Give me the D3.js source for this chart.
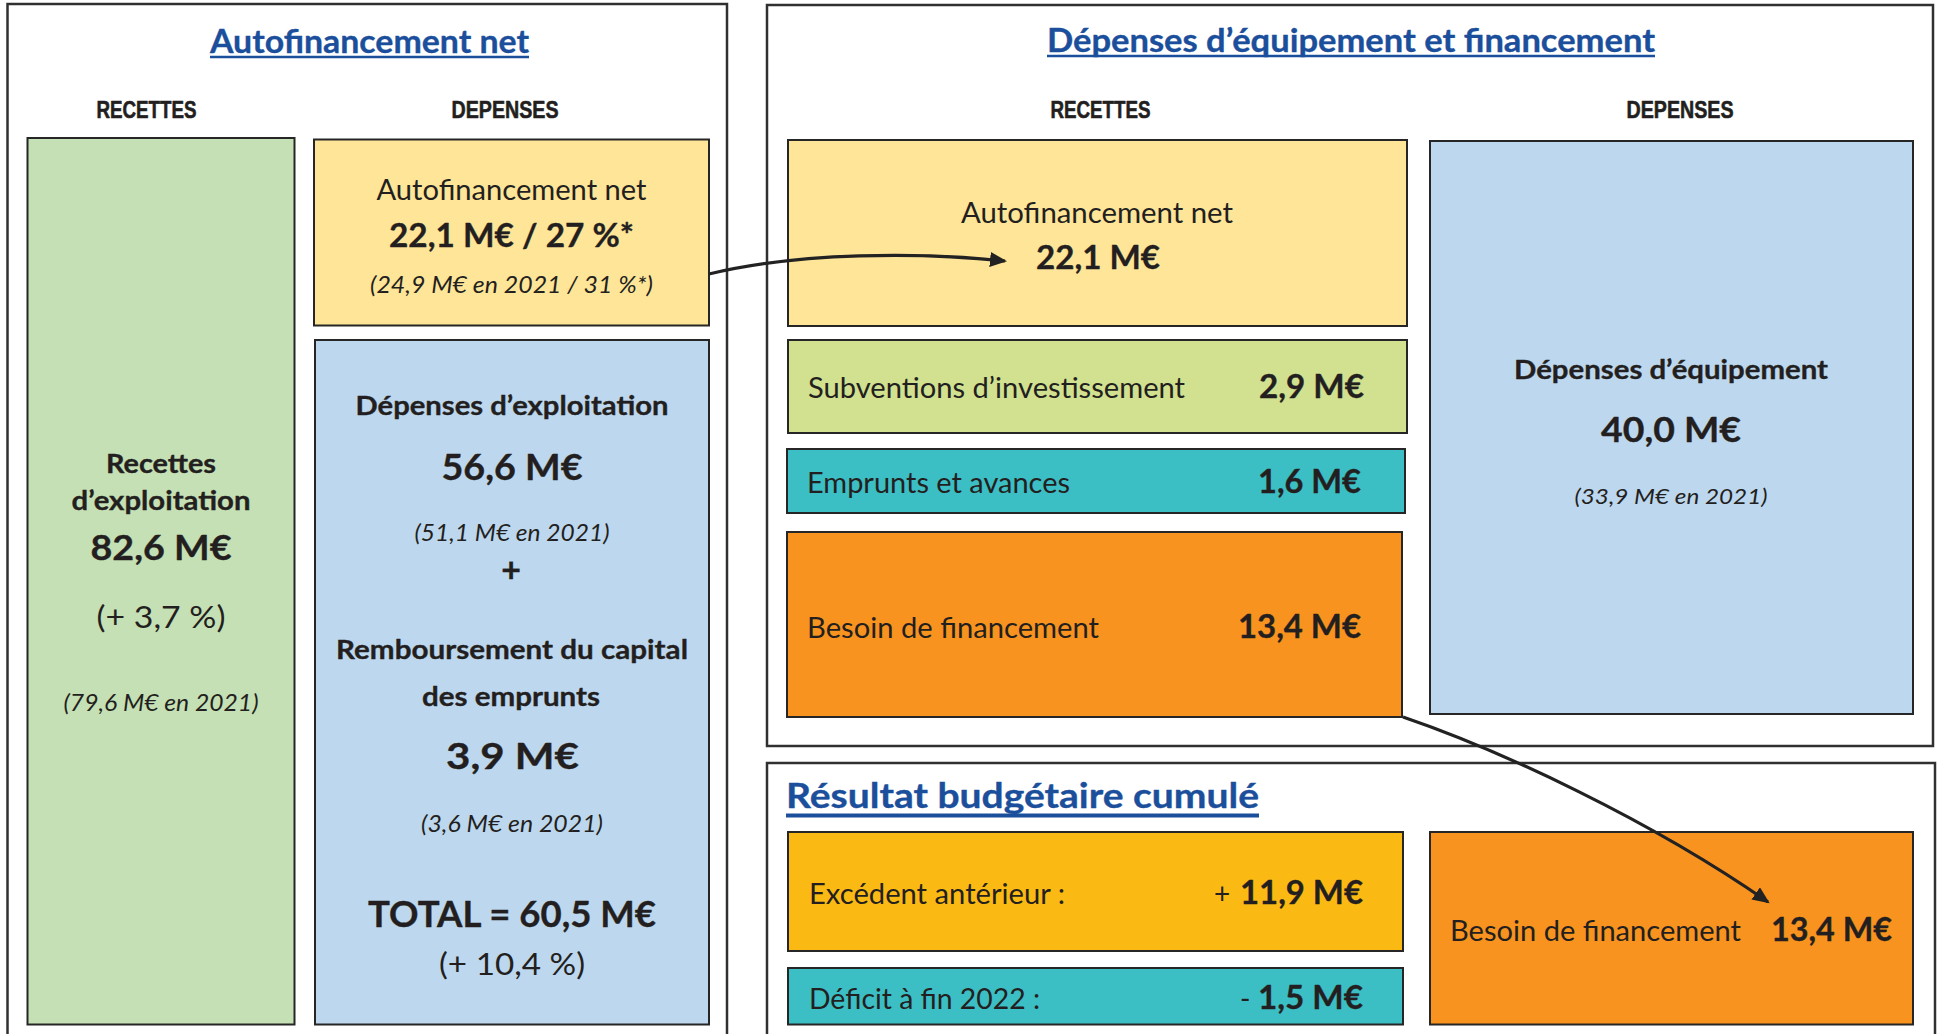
<!DOCTYPE html>
<html lang="fr">
<head>
<meta charset="utf-8">
<script src="https://cdn.jsdelivr.net/npm/d3@7"></script>
<style>
html,body{margin:0;padding:0;background:#fff;}
svg{display:block;}
</style>
</head>
<body>
<svg id="chart" width="1938" height="1034"></svg>
<script>
// ---------------- DATA ----------------
const panelTitles = ["Autofinancement net", "Dépenses d’équipement et financement", "Résultat budgétaire cumulé"];
const columnHeaders = ["RECETTES", "DEPENSES"];

// Section fonctionnement (M€)
const exploitLabels = ["Recettes", "d’exploitation", "Autofinancement net", "Dépenses d’exploitation", "Remboursement du capital", "des emprunts"];
const exploit2022 = [82.6, 22.1, 56.6, 3.9];   // recettes, autofinancement, dépenses exploit., remboursement
const exploit2021 = [79.6, 24.9, 51.1, 3.6];
const autofinRate = [27, 31];                  // % 2022, % 2021
const exploitEvolution = [3.7, 10.4];          // % recettes, % total dépenses
const exploitTotal = [60.5];

// Section investissement (M€)
const investLabels = ["Autofinancement net", "Subventions d’investissement", "Emprunts et avances", "Besoin de financement", "Dépenses d’équipement"];
const invest2022 = [22.1, 2.9, 1.6, 13.4, 40.0];
const invest2021 = [33.9];

// Résultat budgétaire cumulé (M€)
const resultLabels = ["Excédent antérieur :", "Déficit à fin 2022 :", "Besoin de financement"];
const resultValues = [11.9, -1.5, 13.4];

// ---------------- FORMAT ----------------
const fr = d3.formatLocale({decimal: ",", thousands: "\u00a0", grouping: [3], currency: ["", " €"]});
const f1 = fr.format(".1f");
const f0 = fr.format(".0f");
const meur = v => f1(Math.abs(v)) + " M€";
const prev = v => "(" + meur(v) + " en 2021)";
const evo = v => "(+ " + f1(v) + " %)";

// ---------------- STYLE ----------------
const LATO = "Lato, Carlito, 'Noto Sans', sans-serif";
const ARIAL = "'Liberation Sans', Arial, sans-serif";
const INK = "#231f20";
const BLUE = "#1b4f9c";
const C = {green:"#c5e0b4", yellow:"#fee598", blue:"#bdd7ee", lime:"#d1e18f", teal:"#3bbec4", orange:"#f7931e", gold:"#fbba13"};

const svg = d3.select("#chart");
svg.append("rect").attr("width", 1938).attr("height", 1034).attr("fill", "#fff");

// panels
const panels = [
  {x:7.5, y:4, w:719.5, h:1060},
  {x:767, y:5, w:1166, h:741},
  {x:767, y:763, w:1168, h:300}
];
svg.append("g").selectAll("rect").data(panels).join("rect")
  .attr("x", d => d.x).attr("y", d => d.y).attr("width", d => d.w).attr("height", d => d.h)
  .attr("fill", "none").attr("stroke", "#303030").attr("stroke-width", 2.5);

// boxes
const boxes = [
  {x:27.5, y:138, w:267, h:886.5, c:C.green},
  {x:314, y:139.5, w:395, h:186, c:C.yellow},
  {x:315, y:340, w:394, h:684.5, c:C.blue},
  {x:788, y:140, w:619, h:186, c:C.yellow},
  {x:788, y:340, w:619, h:93, c:C.lime},
  {x:787, y:449, w:618, h:64, c:C.teal},
  {x:787, y:532, w:615, h:185, c:C.orange},
  {x:1430, y:141, w:483, h:573, c:C.blue},
  {x:788, y:832, w:615, h:119, c:C.gold},
  {x:788, y:968, w:615, h:56.5, c:C.teal},
  {x:1430, y:832, w:483, h:192.5, c:C.orange}
];
svg.append("g").selectAll("rect").data(boxes).join("rect")
  .attr("x", d => d.x).attr("y", d => d.y).attr("width", d => d.w).attr("height", d => d.h)
  .attr("fill", d => d.c).attr("stroke", "#262626").attr("stroke-width", 2);

// texts
const texts = [
  // left panel
  {t:panelTitles[0], x:369.5, y:53, s:33, b:1, c:BLUE, w:319, u:1},
  {t:columnHeaders[0], x:146.5, y:118, s:24, b:1, f:ARIAL, w:100, k:0.6},
  {t:columnHeaders[1], x:505, y:118, s:24, b:1, f:ARIAL, w:107, k:0.6},
  {t:exploitLabels[0], x:161, y:473, s:27, b:1, w:110},
  {t:exploitLabels[1], x:161, y:510, s:27, b:1, w:179},
  {t:meur(exploit2022[0]), x:161, y:560, s:35, b:1, w:141},
  {t:evo(exploitEvolution[0]), x:161, y:628, s:31, w:129},
  {t:prev(exploit2021[0]), x:161, y:711, s:23.5, i:1, w:195},
  {t:exploitLabels[2], x:511.5, y:200, s:28, w:270},
  {t:meur(exploit2022[1]) + " / " + f0(autofinRate[0]) + " %*", x:511.5, y:247, s:33, b:1, w:245},
  {t:"(" + meur(exploit2021[1]) + " en 2021 / " + f0(autofinRate[1]) + " %*)", x:511.5, y:293, s:23.5, i:1, w:283},
  {t:exploitLabels[3], x:512, y:415, s:27, b:1, w:313},
  {t:meur(exploit2022[2]), x:512, y:480, s:35.5, b:1, w:141},
  {t:prev(exploit2021[2]), x:512, y:541, s:23.5, i:1, w:195},
  {t:"+", x:511, y:582, s:34, b:1},
  {t:exploitLabels[4], x:512, y:659, s:27, b:1, w:352},
  {t:exploitLabels[5], x:511, y:706, s:27, b:1, w:178},
  {t:meur(exploit2022[3]), x:512.5, y:769, s:37, b:1, w:133},
  {t:prev(exploit2021[3]), x:512, y:832, s:23.5, i:1, w:182},
  {t:"TOTAL = " + meur(exploitTotal[0]), x:512, y:927, s:36, b:1, w:288},
  {t:evo(exploitEvolution[1]), x:512, y:975, s:31, w:146},
  // right panel
  {t:panelTitles[1], x:1351, y:52, s:33, b:1, c:BLUE, w:608, u:1},
  {t:columnHeaders[0], x:1100.5, y:118, s:24, b:1, f:ARIAL, w:100, k:0.6},
  {t:columnHeaders[1], x:1680, y:118, s:24, b:1, f:ARIAL, w:107, k:0.6},
  {t:investLabels[0], x:1097, y:223, s:28, w:272},
  {t:meur(invest2022[0]), x:1098, y:269, s:33, b:1, w:124},
  {t:investLabels[1], x:808, y:398, s:28, a:"start", w:377},
  {t:meur(invest2022[1]), x:1259, y:398, s:33, b:1, a:"start", w:105},
  {t:investLabels[2], x:807, y:493, s:28, a:"start", w:263},
  {t:meur(invest2022[2]), x:1258, y:493, s:33, b:1, a:"start", w:103},
  {t:investLabels[3], x:807, y:638, s:28, a:"start", w:292},
  {t:meur(invest2022[3]), x:1238, y:638, s:33, b:1, a:"start", w:123},
  {t:investLabels[4], x:1671, y:379, s:26.5, b:1, w:314},
  {t:meur(invest2022[4]), x:1671, y:442, s:35, b:1, w:140},
  {t:prev(invest2021[0]), x:1671, y:504, s:22, i:1, w:193},
  // bottom panel
  {t:panelTitles[2], x:786, y:808, s:34, b:1, c:BLUE, a:"start", w:473, u:1, uw:4},
  {t:resultLabels[0], x:809, y:904, s:28, a:"start", w:256},
  {t:"+", x:1214, y:904, s:28, a:"start"},
  {t:meur(resultValues[0]), x:1240, y:904, s:33, b:1, a:"start", w:123},
  {t:resultLabels[1], x:809, y:1009, s:28, a:"start", w:231},
  {t:"-", x:1240, y:1009, s:28, a:"start"},
  {t:meur(resultValues[1]), x:1258, y:1009, s:33, b:1, a:"start", w:105},
  {t:resultLabels[2], x:1450, y:941, s:28, a:"start", w:291},
  {t:meur(resultValues[2]), x:1771, y:941, s:33, b:1, a:"start", w:121}
];

const tg = svg.append("g");
texts.forEach(d => {
  const col = d.c || INK;
  const el = tg.append("text")
    .attr("x", d.x).attr("y", d.y)
    .attr("text-anchor", d.a || "middle")
    .attr("fill", col)
    .style("font-family", d.f || LATO)
    .style("font-size", d.s + "px")
    .style("font-weight", d.b ? 700 : 400)
    .style("font-style", d.i ? "italic" : "normal")
    .text(d.t);
  if (d.b) el.attr("stroke", col).attr("stroke-width", d.k || 0.35).attr("stroke-linejoin", "round");
  if (d.w) el.attr("textLength", d.w).attr("lengthAdjust", "spacingAndGlyphs");
  if (d.u) {
    const x0 = d.a === "start" ? d.x : d.x - d.w / 2;
    tg.append("line").attr("x1", x0).attr("x2", x0 + d.w)
      .attr("y1", d.y + (d.uw ? 7.5 : 4)).attr("y2", d.y + (d.uw ? 7.5 : 4))
      .attr("stroke", d.c).attr("stroke-width", d.uw || 2.5);
  }
});

// arrows
const defs = svg.append("defs");
defs.append("marker").attr("id", "head")
  .attr("markerUnits", "userSpaceOnUse")
  .attr("markerWidth", 20).attr("markerHeight", 16)
  .attr("refX", 15).attr("refY", 7.5).attr("orient", "auto")
  .append("path").attr("d", "M0,0 L17,7.5 L0,15 Z").attr("fill", "#222");

const arrows = [
  [[709, 274], [800, 252], [920, 252], [1005, 261]],
  [[1403, 717], [1500, 750], [1650, 820], [1768, 902]]
];
svg.append("g").selectAll("path").data(arrows).join("path")
  .attr("d", p => { const q = d3.path(); q.moveTo(...p[0]); q.bezierCurveTo(...p[1], ...p[2], ...p[3]); return q.toString(); })
  .attr("fill", "none").attr("stroke", "#222").attr("stroke-width", 3.2)
  .attr("marker-end", "url(#head)");
</script>
</body>
</html>
